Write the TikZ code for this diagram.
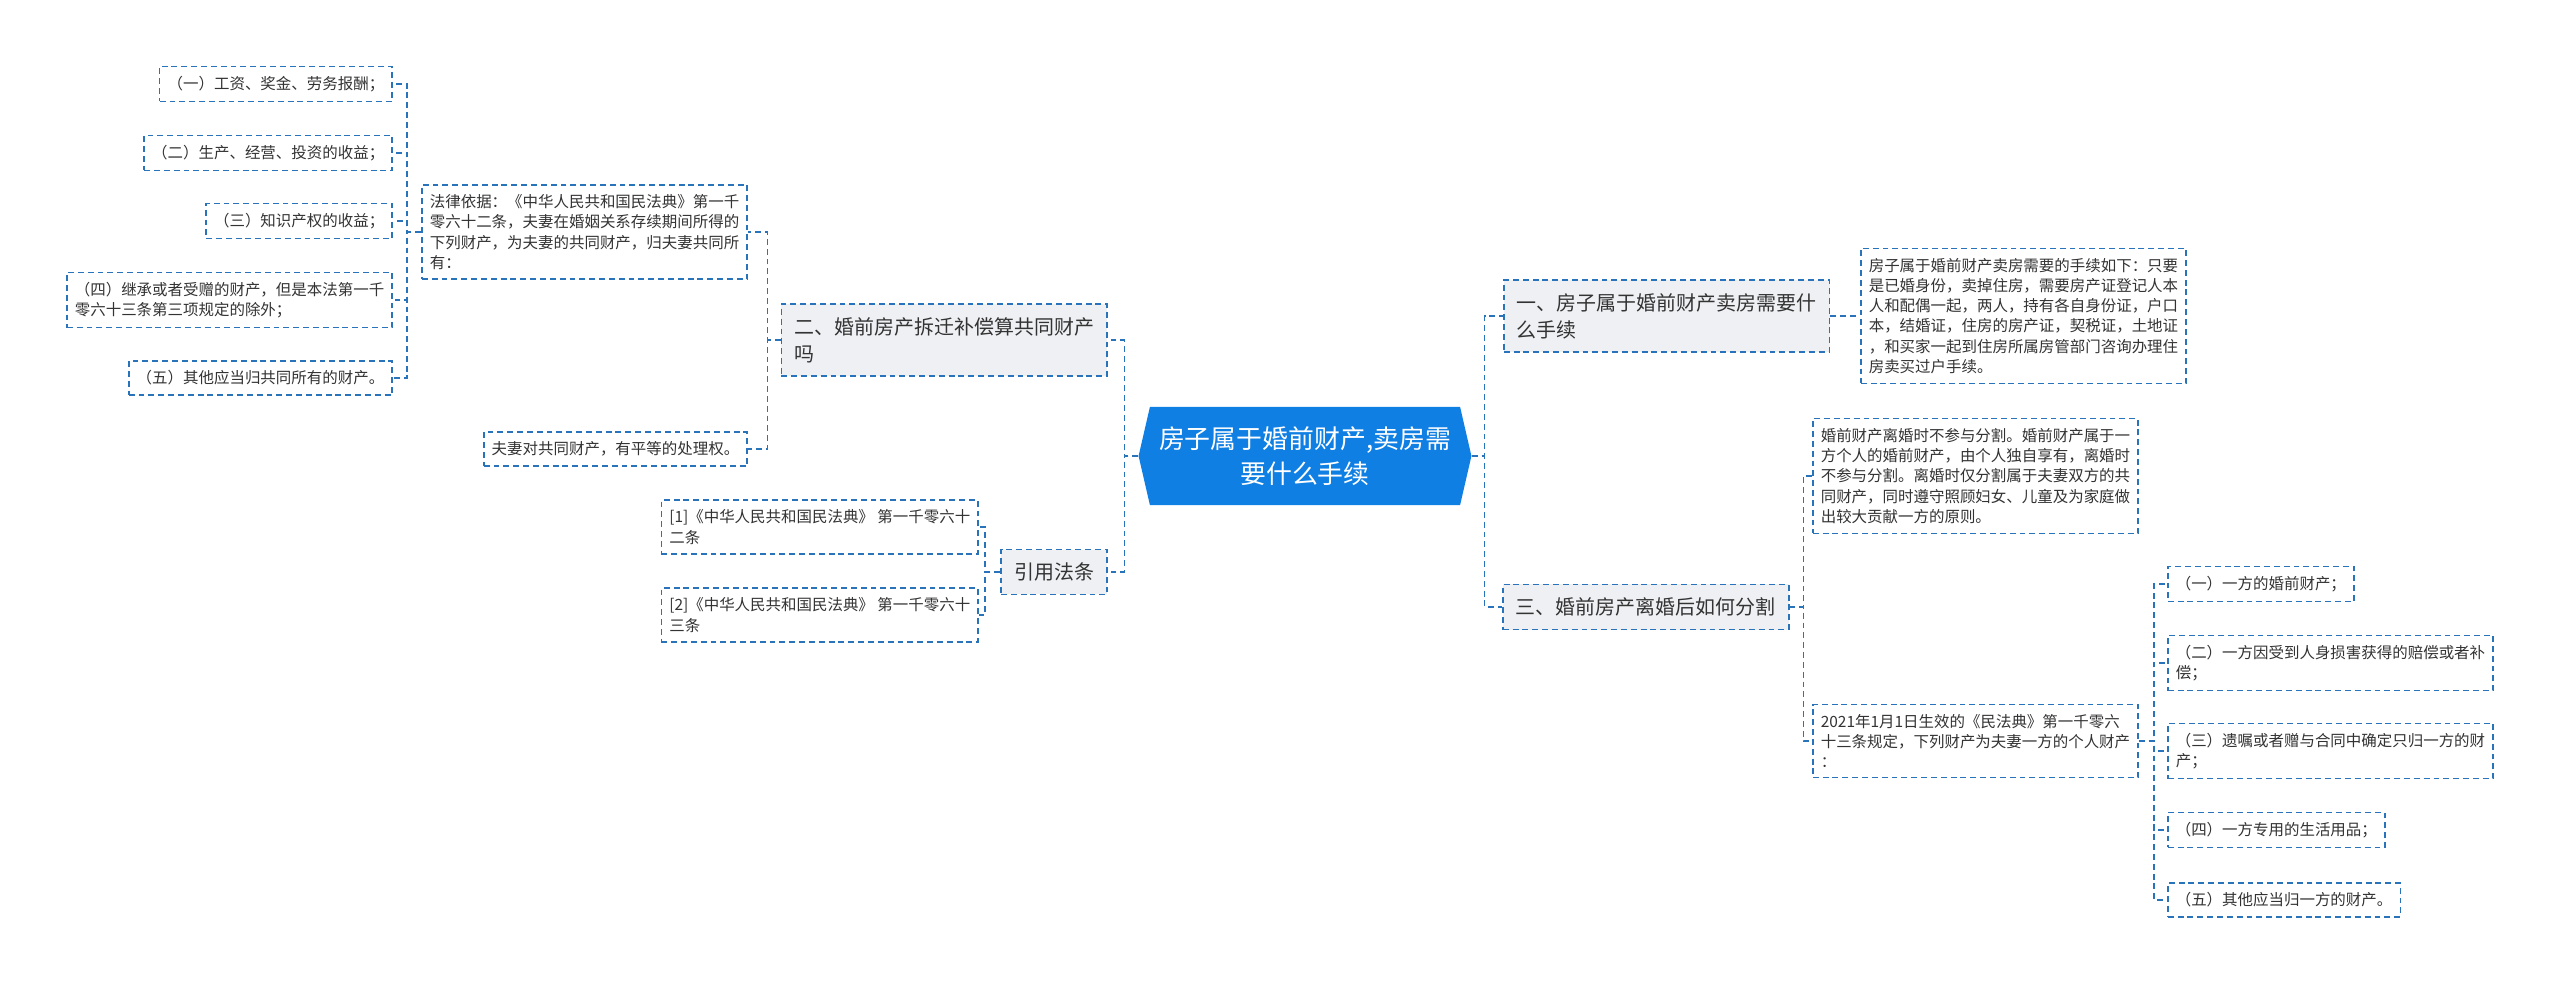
\documentclass[tikz,border=0pt]{standalone}
\usepackage{fontspec}
\setmainfont{Noto Sans CJK SC}
\usepackage{tikz}
\usetikzlibrary{positioning, shapes.symbols}
\usepackage{xcolor}

\definecolor{linkblue}{RGB}{40,115,185}
\definecolor{rootblue}{RGB}{15,127,227}
\definecolor{branchgray}{RGB}{238,240,243}
\definecolor{textgray}{RGB}{51,51,51}

\newcommand{\leaffont}{\fontsize{11pt}{14.4pt}\selectfont}
\newcommand{\branchfont}{\fontsize{14.2pt}{19.2pt}\selectfont}
\newcommand{\rootfont}{\fontsize{18.4pt}{24.8pt}\selectfont}

\begin{document}
\begin{tikzpicture}[
		x=0.025cm, y=-0.025cm,
		link/.style={draw=linkblue, line width=1.1pt, dash pattern=on 4.2pt off 2.8pt},
		leaf/.style={draw=linkblue, line width=1.1pt, dash pattern=on 4.2pt off 2.8pt, fill=white, text=textgray, align=left, inner xsep=0.2cm, inner ysep=0.24cm, font=\leaffont},
		branch/.style={leaf, fill=branchgray, inner sep=0.33cm, font=\branchfont},
		root/.style={signal, signal to=west and east, signal pointer angle=154, fill=rootblue, text=white, align=center, font=\rootfont, inner xsep=0.23cm, minimum height=2.45cm}
		]
		
		\useasboundingbox (0,0) rectangle (2560,984);
		
		% Trung tâm
		\node[root] (root) at (1305,456) {房子属于婚前财产,卖房需\\要什么手续};
		
		% Nhánh trái: 二
		\node[branch, anchor=east] (two) at (1108,340) {二、婚前房产拆迁补偿算共同财产\\吗};
		\node[leaf, anchor=east] (law) at (748,232) {法律依据：《中华人民共和国民法典》第一千\\零六十二条，夫妻在婚姻关系存续期间所得的\\下列财产，为夫妻的共同财产，归夫妻共同所\\有：};
		\node[leaf, anchor=east] (equal) at (748,449) {夫妻对共同财产，有平等的处理权。};
		\node[leaf, anchor=east] (wage) at (393,84) {（一）工资、奖金、劳务报酬；};
		\node[leaf, anchor=east] (income) at (393,153) {（二）生产、经营、投资的收益；};
		\node[leaf, anchor=east] (ip) at (393,221) {（三）知识产权的收益；};
		\node[leaf, anchor=east] (gift) at (393,300) {（四）继承或者受赠的财产，但是本法第一千\\零六十三条第三项规定的除外；};
		\node[leaf, anchor=east] (other) at (393,378) {（五）其他应当归共同所有的财产。};
		
		% Nhánh trái: 引用法条
		\node[branch, anchor=east] (cite) at (1108,572) {引用法条};
		\node[leaf, anchor=east] (ref1) at (979,527) {[1]《中华人民共和国民法典》 第一千零六十\\二条};
		\node[leaf, anchor=east] (ref2) at (979,615) {[2]《中华人民共和国民法典》 第一千零六十\\三条};
		
		% Nhánh phải: 一
		\node[branch, anchor=west] (one) at (1503,316) {一、房子属于婚前财产卖房需要什\\么手续};
		\node[leaf, anchor=west] (sale) at (1860,316) {房子属于婚前财产卖房需要的手续如下：只要\\是已婚身份，卖掉住房，需要房产证登记人本\\人和配偶一起，两人，持有各自身份证，户口\\本，结婚证，住房的房产证，契税证，土地证\\，和买家一起到住房所属房管部门咨询办理住\\房卖买过户手续。};
		
		% Nhánh phải: 三
		\node[branch, anchor=west] (three) at (1502,607) {三、婚前房产离婚后如何分割};
		\node[leaf, anchor=west] (split) at (1812,476) {婚前财产离婚时不参与分割。婚前财产属于一\\方个人的婚前财产，由个人独自享有，离婚时\\不参与分割。离婚时仅分割属于夫妻双方的共\\同财产，同时遵守照顾妇女、儿童及为家庭做\\出较大贡献一方的原则。};
		\node[leaf, anchor=west] (civil) at (1812,741) {2021年1月1日生效的《民法典》第一千零六\\十三条规定，下列财产为夫妻一方的个人财产\\：};
		\node[leaf, anchor=west] (own1) at (2167,584) {（一）一方的婚前财产；};
		\node[leaf, anchor=west] (own2) at (2167,663) {（二）一方因受到人身损害获得的赔偿或者补\\偿；};
		\node[leaf, anchor=west] (own3) at (2167,751) {（三）遗嘱或者赠与合同中确定只归一方的财\\产；};
		\node[leaf, anchor=west] (own4) at (2167,830) {（四）一方专用的生活用品；};
		\node[leaf, anchor=west] (own5) at (2167,900) {（五）其他应当归一方的财产。};
		
		% Đường nối
		\draw[link] (root.west) -- ++(-14,0) |- (two.east);
		\draw[link] (root.west) -- ++(-14,0) |- (cite.east);
		\draw[link] (two.west) -- ++(-13,0) |- (law.east);
		\draw[link] (two.west) -- ++(-13,0) |- (equal.east);
		\draw[link] (law.west) -- ++(-14,0) |- (wage.east);
		\draw[link] (law.west) -- ++(-14,0) |- (income.east);
		\draw[link] (law.west) -- ++(-14,0) |- (ip.east);
		\draw[link] (law.west) -- ++(-14,0) |- (gift.east);
		\draw[link] (law.west) -- ++(-14,0) |- (other.east);
		\draw[link] (cite.west) -- ++(-15,0) |- (ref1.east);
		\draw[link] (cite.west) -- ++(-15,0) |- (ref2.east);
		
		\draw[link] (root.east) -- ++(13,0) |- (one.west);
		\draw[link] (root.east) -- ++(13,0) |- (three.west);
		\draw[link] (one.east) -- ++(13,0) |- (sale.west);
		\draw[link] (three.east) -- ++(14,0) |- (split.west);
		\draw[link] (three.east) -- ++(14,0) |- (civil.west);
		\draw[link] (civil.east) -- ++(15,0) |- (own1.west);
		\draw[link] (civil.east) -- ++(15,0) |- (own2.west);
		\draw[link] (civil.east) -- ++(15,0) |- (own3.west);
		\draw[link] (civil.east) -- ++(15,0) |- (own4.west);
		\draw[link] (civil.east) -- ++(15,0) |- (own5.west);
		
	\end{tikzpicture}
\end{document}
